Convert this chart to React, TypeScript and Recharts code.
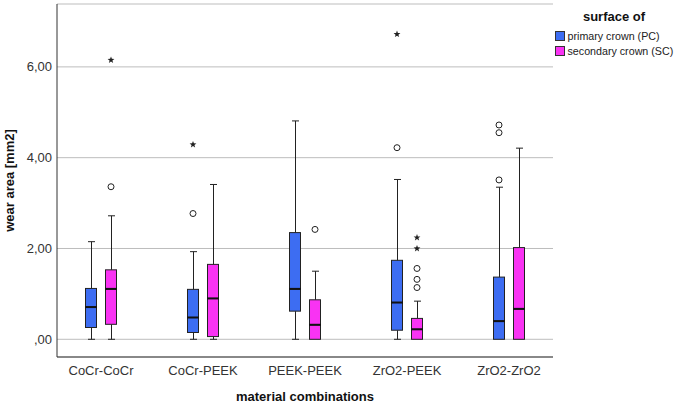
import { Bar, CartesianGrid, ComposedChart, Legend, Line, XAxis, YAxis } from 'recharts';

const categories = ['CoCr-CoCr', 'CoCr-PEEK', 'PEEK-PEEK', 'ZrO2-PEEK', 'ZrO2-ZrO2'];

// primary crown (PC)
const pcMin = [0, 0, 0, 0, 0];
const pcQ1 = [0.26, 0.15, 0.62, 0.2, 0];
const pcMedian = [0.71, 0.48, 1.11, 0.81, 0.4];
const pcQ3 = [1.12, 1.1, 2.35, 1.74, 1.37];
const pcMax = [2.15, 1.93, 4.81, 3.52, 3.35];
const pcCircles = [[], [2.77], [], [4.22], [3.51, 4.55, 4.72]];
const pcStars = [[], [4.29], [], [6.72], []];

// secondary crown (SC)
const scMin = [0, 0, 0, 0, 0];
const scQ1 = [0.33, 0.06, 0, 0, 0];
const scMedian = [1.11, 0.9, 0.32, 0.22, 0.67];
const scQ3 = [1.53, 1.65, 0.87, 0.46, 2.02];
const scMax = [2.72, 3.41, 1.5, 0.84, 4.21];
const scCircles = [[3.36], [], [2.42], [1.14, 1.32, 1.56], []];
const scStars = [[6.15], [], [], [2.0, 2.24], []];

const yTicks = [0, 2, 4, 6];

const series = [
  { name: 'primary crown (PC)', color: '#3d6df2' },
  { name: 'secondary crown (SC)', color: '#f933f3' },
];

const INK = '#222';
const FONT = 'Arial, "Liberation Sans", sans-serif';
const BAR_SIZE = 12;
const BAR_GAP = 8;
const SHIFT = (BAR_SIZE + BAR_GAP) / 2;

const rows = categories.map((name, i) => {
  const row: Record<string, string | number | null> = {
    name,
    pcBase: pcMin[i],
    pcLow: pcQ1[i] - pcMin[i],
    pcBoxLow: pcMedian[i] - pcQ1[i],
    pcBoxHigh: pcQ3[i] - pcMedian[i],
    pcHigh: pcMax[i] - pcQ3[i],
    scBase: scMin[i],
    scLow: scQ1[i] - scMin[i],
    scBoxLow: scMedian[i] - scQ1[i],
    scBoxHigh: scQ3[i] - scMedian[i],
    scHigh: scMax[i] - scQ3[i],
  };
  for (let k = 0; k < 3; k++) {
    row[`pcCircle${k}`] = pcCircles[i][k] ?? null;
    row[`scCircle${k}`] = scCircles[i][k] ?? null;
  }
  for (let k = 0; k < 2; k++) {
    row[`pcStar${k}`] = pcStars[i][k] ?? null;
    row[`scStar${k}`] = scStars[i][k] ?? null;
  }
  return row;
});

const Hidden = () => <g />;

const LowerWhisker = (props: any) => {
  const { x, y, width, height } = props;
  if (!(height > 0)) return <g />;
  const cx = x + width / 2 + 0.5;
  return (
    <g>
      <line x1={cx} x2={cx} y1={y} y2={y + height} stroke={INK} />
      <line x1={cx - 3.5} x2={cx + 3.5} y1={y + height} y2={y + height} stroke={INK} />
    </g>
  );
};

const UpperWhisker = (props: any) => {
  const { x, y, width, height } = props;
  if (!(height > 0)) return <g />;
  const cx = x + width / 2 + 0.5;
  return (
    <g>
      <line x1={cx} x2={cx} y1={y} y2={y + height} stroke={INK} />
      <line x1={cx - 3.5} x2={cx + 3.5} y1={y} y2={y} stroke={INK} />
    </g>
  );
};

const boxLow = (color: string) => (props: any) => {
  const { x, y, width, height } = props;
  return <rect x={x + 0.5} y={y} width={width - 1} height={Math.max(height, 0)} fill={color} stroke={INK} />;
};

const boxHigh = (color: string) => (props: any) => {
  const { x, y, width, height } = props;
  return (
    <g>
      <rect x={x + 0.5} y={y} width={width - 1} height={Math.max(height, 0)} fill={color} stroke={INK} />
      <line x1={x} x2={x + width} y1={y + height} y2={y + height} stroke="#111" strokeWidth={2} />
    </g>
  );
};

const starPath = (cx: number, cy: number) => {
  const pts: string[] = [];
  for (let i = 0; i < 10; i++) {
    const r = i % 2 === 0 ? 3.6 : 1.5;
    const a = -Math.PI / 2 + (i * Math.PI) / 5;
    pts.push(`${(cx + r * Math.cos(a)).toFixed(2)},${(cy + r * Math.sin(a)).toFixed(2)}`);
  }
  return `M${pts.join('L')}Z`;
};

const outlierDot = (shift: number, kind: 'circle' | 'star') => (props: any) => {
  const { cx, cy, value, index, dataKey } = props;
  const key = `${dataKey}-${index}`;
  if (value == null || cy == null || Number.isNaN(cy)) return <g key={key} />;
  const px = cx + shift;
  if (kind === 'circle') {
    return <circle key={key} cx={px} cy={cy} r={3} fill="none" stroke={INK} strokeWidth={1} />;
  }
  return <path key={key} d={starPath(px, cy)} fill={INK} />;
};

const outlierKeys = [
  ...[0, 1, 2].map((k) => ({ key: `pcCircle${k}`, shift: -SHIFT, kind: 'circle' as const })),
  ...[0, 1].map((k) => ({ key: `pcStar${k}`, shift: -SHIFT, kind: 'star' as const })),
  ...[0, 1, 2].map((k) => ({ key: `scCircle${k}`, shift: SHIFT, kind: 'circle' as const })),
  ...[0, 1].map((k) => ({ key: `scStar${k}`, shift: SHIFT, kind: 'star' as const })),
];

const LegendBox = () => (
  <div style={{ fontFamily: FONT, width: 122 }}>
    <div style={{ textAlign: 'center', fontWeight: 'bold', fontSize: 13, lineHeight: '16px', marginTop: 9, color: '#111' }}>
      surface of
    </div>
    <div style={{ marginTop: 4 }}>
      {series.map((s) => (
        <div key={s.name} style={{ display: 'flex', alignItems: 'center', height: 14.5, whiteSpace: 'nowrap' }}>
          <span
            style={{
              display: 'inline-block',
              width: 10,
              height: 10,
              boxSizing: 'border-box',
              border: '1px solid #333',
              background: s.color,
              marginLeft: 2,
              marginRight: 2.5,
            }}
          />
          <span style={{ fontSize: 10.7, color: '#222' }}>{s.name}</span>
        </div>
      ))}
    </div>
  </div>
);

const fmt = (v: number) => v.toFixed(2).replace('.', ',').replace(/^0,/, ',');

export default function App() {
  return (
    <div style={{ position: 'absolute', left: 0, top: 0, background: '#fff' }}>
      <ComposedChart
        width={675}
        height={406}
        data={rows}
        margin={{ top: 4, right: 122, bottom: 0, left: 0 }}
        barSize={BAR_SIZE}
        barGap={BAR_GAP}
      >
        <CartesianGrid vertical={false} stroke="#bdbdbd" />
        <XAxis
          dataKey="name"
          height={49}
          padding={{ left: -7, right: -7 }}
          axisLine={{ stroke: '#333' }}
          tickLine={false}
          tickSize={0}
          tickMargin={9}
          tick={{ fill: '#333', fontSize: 13, fontFamily: FONT }}
          label={{
            value: 'material combinations',
            position: 'insideBottom',
            offset: 5,
            style: { fontWeight: 'bold', fontSize: 13, fill: '#111', fontFamily: FONT },
          }}
        />
        <YAxis
          type="number"
          width={57}
          domain={[-0.39, 7.385]}
          ticks={yTicks}
          tickFormatter={fmt}
          axisLine={{ stroke: '#333' }}
          tickLine={false}
          tickSize={0}
          tickMargin={5}
          tick={{ fill: '#333', fontSize: 13, fontFamily: FONT }}
          label={{
            value: 'wear area [mm2]',
            angle: -90,
            position: 'insideLeft',
            offset: 9,
            style: { textAnchor: 'middle', fontWeight: 'bold', fontSize: 13, fill: '#111', fontFamily: FONT },
          }}
        />
        <Legend layout="vertical" align="center" verticalAlign="middle" wrapperStyle={{ left: 553, top: 0, width: 122 }} content={LegendBox} />

        <Bar dataKey="pcBase" stackId="pc" shape={Hidden} isAnimationActive={false} />
        <Bar dataKey="pcLow" stackId="pc" shape={LowerWhisker} isAnimationActive={false} />
        <Bar dataKey="pcBoxLow" stackId="pc" shape={boxLow(series[0].color)} isAnimationActive={false} />
        <Bar dataKey="pcBoxHigh" stackId="pc" shape={boxHigh(series[0].color)} isAnimationActive={false} />
        <Bar dataKey="pcHigh" stackId="pc" shape={UpperWhisker} isAnimationActive={false} />

        <Bar dataKey="scBase" stackId="sc" shape={Hidden} isAnimationActive={false} />
        <Bar dataKey="scLow" stackId="sc" shape={LowerWhisker} isAnimationActive={false} />
        <Bar dataKey="scBoxLow" stackId="sc" shape={boxLow(series[1].color)} isAnimationActive={false} />
        <Bar dataKey="scBoxHigh" stackId="sc" shape={boxHigh(series[1].color)} isAnimationActive={false} />
        <Bar dataKey="scHigh" stackId="sc" shape={UpperWhisker} isAnimationActive={false} />

        {outlierKeys.map((o) => (
          <Line
            key={o.key}
            dataKey={o.key}
            stroke="none"
            dot={outlierDot(o.shift, o.kind)}
            activeDot={false}
            legendType="none"
            isAnimationActive={false}
          />
        ))}
      </ComposedChart>
    </div>
  );
}
